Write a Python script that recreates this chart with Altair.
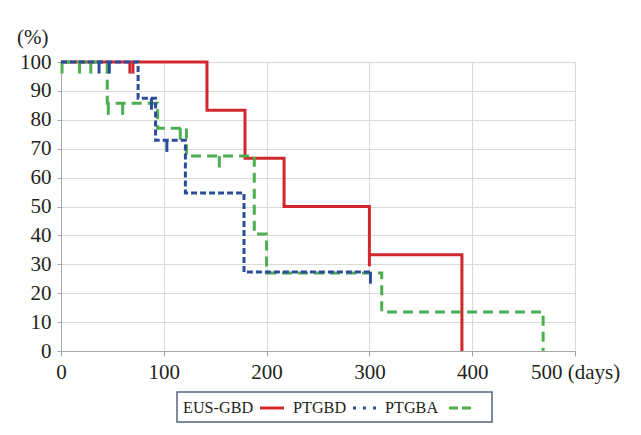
import altair as alt
import pandas as pd

# ---------------- data ----------------
series_names = ["EUS-GBD", "PTGBD", "PTGBA"]

eus_days = [0, 142, 179, 217, 300, 390]
eus_surv = [100, 83.3, 66.7, 50.0, 33.3, 0]

ptgbd_days = [0, 75, 92, 121, 178, 301]
ptgbd_surv = [100, 87.5, 72.9, 54.7, 27.3, 27.3]

ptgba_days = [0, 45, 94, 122, 188, 200, 312, 469]
ptgba_surv = [100, 85.7, 77.1, 67.5, 40.5, 27.0, 13.5, 0]

# censored observations (tick marks)
eus_cens_days = [67, 70, 300]
eus_cens_surv = [100, 100, 33.3]
ptgbd_cens_days = [37, 47, 88, 103, 301]
ptgbd_cens_surv = [100, 100, 87.5, 72.9, 27.3]
ptgba_cens_days = [1, 18, 29, 46, 60, 116, 154]
ptgba_cens_surv = [100, 100, 100, 85.7, 85.7, 77.1, 67.5]

x_ticks = [0, 100, 200, 300, 400, 500]
y_ticks = [0, 10, 20, 30, 40, 50, 60, 70, 80, 90, 100]

# ---------------- styles ----------------
colors = {"EUS-GBD": "#d1282e", "PTGBD": "#2b4c9b", "PTGBA": "#4dae50"}
dashes = {"EUS-GBD": [1, 0], "PTGBD": [6, 3], "PTGBA": [10, 6]}
tick_len = 4.0
FONT = "Liberation Serif"
TXT = "#231f20"

xs = alt.Scale(domain=[0, 500], nice=False, zero=True)
ys = alt.Scale(domain=[0, 100], nice=False)

x_axis = alt.Axis(
    values=x_ticks, grid=True, gridColor="#d9d9d9", gridWidth=1,
    domainColor="#a6a6a6", tickColor="#a6a6a6", tickSize=5,
    labelFont=FONT, labelFontSize=21, labelColor=TXT, labelPadding=5,
    labelFlush=False, labelOverlap=False,
    labelExpr="datum.value == 500 ? '500 (days)' : datum.label",
    title=None,
)
y_axis = alt.Axis(
    values=y_ticks, grid=True, gridColor="#d9d9d9", gridWidth=1,
    domainColor="#a6a6a6", tickColor="#a6a6a6", tickSize=4,
    labelFont=FONT, labelFontSize=21, labelColor=TXT, labelPadding=6,
    labelOverlap=False,
    title="(%)", titleAngle=0, titleAlign="right", titleBaseline="alphabetic",
    titleX=-13, titleY=-19, titleFont=FONT, titleFontSize=21,
    titleFontWeight="normal", titleColor=TXT,
)

series = [
    ("EUS-GBD", eus_days, eus_surv, eus_cens_days, eus_cens_surv),
    ("PTGBA", ptgba_days, ptgba_surv, ptgba_cens_days, ptgba_cens_surv),
    ("PTGBD", ptgbd_days, ptgbd_surv, ptgbd_cens_days, ptgbd_cens_surv),
]

layers = []
for name, d, s, cd, cs in series:
    df = pd.DataFrame({"day": d, "surv": s})
    line = alt.Chart(df).mark_line(
        interpolate="step-after", color=colors[name], strokeWidth=3,
        strokeDash=dashes[name], clip=False,
    ).encode(
        x=alt.X("day:Q", scale=xs, axis=x_axis),
        y=alt.Y("surv:Q", scale=ys, axis=y_axis),
    )
    cdf = pd.DataFrame({"day": cd, "top": cs})
    cdf["bottom"] = cdf["top"] - tick_len
    cens = alt.Chart(cdf).mark_rule(color=colors[name], strokeWidth=3).encode(
        x=alt.X("day:Q", scale=xs, axis=x_axis),
        y=alt.Y("top:Q", scale=ys, axis=y_axis),
        y2="bottom:Q",
    )
    layers += [line, cens]

# ---------------- legend (label then symbol, as in the reference) ----------------
legend_box = alt.Chart(pd.DataFrame({"a": [0]})).mark_rect(
    fill="white", stroke="#55657f", strokeWidth=1.5
).encode(x=alt.value(116), x2=alt.value(431), y=alt.value(330), y2=alt.value(360))
layers.append(legend_box)

legend_text_x = {"EUS-GBD": 122, "PTGBD": 232, "PTGBA": 324}
legend_sym_x = {"EUS-GBD": (199, 223), "PTGBD": (292, 316), "PTGBA": (388, 412)}
legend_dash = {"EUS-GBD": [1, 0], "PTGBD": [3, 7], "PTGBA": [9, 4]}
for name in series_names:
    t = alt.Chart(pd.DataFrame({"a": [0]})).mark_text(
        align="left", baseline="alphabetic", font=FONT, fontSize=16.2, color=TXT
    ).encode(x=alt.value(legend_text_x[name]), y=alt.value(351), text=alt.value(name))
    x0, x1 = legend_sym_x[name]
    r = alt.Chart(pd.DataFrame({"a": [0]})).mark_rule(
        color=colors[name], strokeWidth=3, strokeDash=legend_dash[name]
    ).encode(x=alt.value(x0), x2=alt.value(x1), y=alt.value(346))
    layers += [t, r]

chart = alt.layer(*layers).properties(
    width=514, height=289,
    autosize=alt.AutoSizeParams(type="none"),
    padding={"left": 53, "top": 54, "right": 55, "bottom": 72},
    background="white",
).configure_view(stroke=None)

chart.save("out.html", embed_options={"renderer": "svg", "actions": False})
